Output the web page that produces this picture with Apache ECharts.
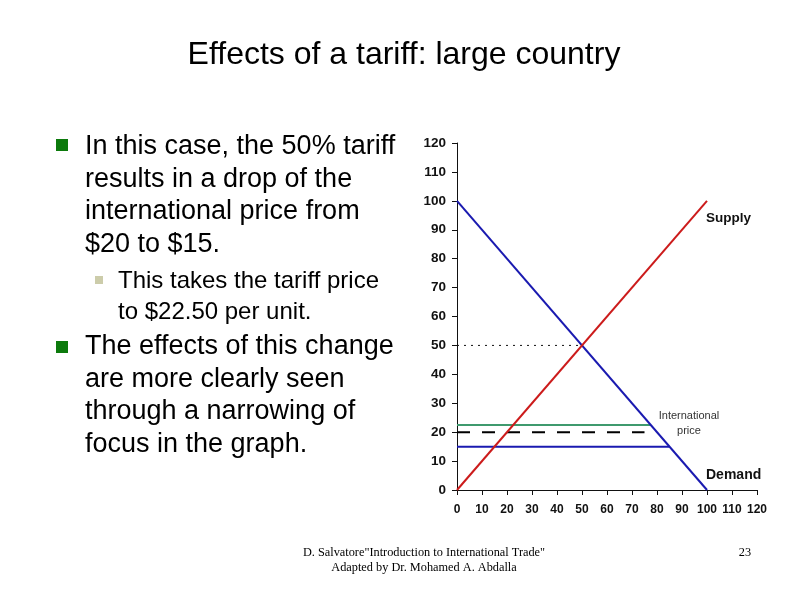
<!DOCTYPE html>
<html>
<head>
<meta charset="utf-8">
<script src="https://cdn.jsdelivr.net/npm/echarts@6/dist/echarts.min.js"></script>
<style>
html,body{margin:0;padding:0;background:#fff;}
#chart{width:799px;height:598px;}
</style>
</head>
<body>
<div id="chart"></div>
<script>
// ---- data ----
const titleText = "Effects of a tariff: large country";
const bullet1 = ["In this case, the 50% tariff", "results in a drop of the", "international price from", "$20 to $15."];
const subBullet = ["This takes the tariff price", "to $22.50 per unit."];
const bullet2 = ["The effects of this change", "are more clearly seen", "through a narrowing of", "focus in the graph."];
const footerLines = ["D. Salvatore\"Introduction to International Trade\"", "Adapted by Dr. Mohamed A. Abdalla"];
const pageNumber = "23";

const demandX = [0, 100];
const demandY = [100, 0];
const supplyX = [0, 100];
const supplyY = [0, 100];
const equilibriumX = [0, 50];
const equilibriumY = [50, 50];
const tariffPriceX = [0, 77.5];
const tariffPriceY = [22.5, 22.5];
const oldPriceX = [0, 75];
const oldPriceY = [20, 20];
const intlPriceX = [0, 85];
const intlPriceY = [15, 15];
const xTicks = [0, 10, 20, 30, 40, 50, 60, 70, 80, 90, 100, 110, 120];
const yTicks = [0, 10, 20, 30, 40, 50, 60, 70, 80, 90, 100, 110, 120];

function pairs(xs, ys) { return xs.map((x, i) => [x, ys[i]]); }

const chart = echarts.init(document.getElementById('chart'), null, {renderer: 'canvas'});
const sans = "Arial, 'Liberation Sans', sans-serif";
const serif = "'Times New Roman', 'Liberation Serif', serif";

const graphics = [];
graphics.push({type: 'text', x: 404, y: 55, style: {text: titleText, font: "32px " + sans, fill: '#000', textAlign: 'center', textVerticalAlign: 'middle'}});
// bullets
function addLines(lines, x, yStart, step, font) {
  lines.forEach((t, i) => graphics.push({type: 'text', x: x, y: yStart + i * step, style: {text: t, font: font, fill: '#000', textVerticalAlign: 'middle'}}));
}
graphics.push({type: 'rect', shape: {x: 56, y: 139, width: 12, height: 12}, style: {fill: '#0c7a0c'}});
addLines(bullet1, 85, 147, 32.4, "27px " + sans);
graphics.push({type: 'rect', shape: {x: 95, y: 276, width: 8, height: 8}, style: {fill: '#ccccaa'}});
addLines(subBullet, 118, 281, 31, "24px " + sans);
graphics.push({type: 'rect', shape: {x: 56, y: 341, width: 12, height: 12}, style: {fill: '#0c7a0c'}});
addLines(bullet2, 85, 347, 32.4, "27px " + sans);
// annotations
graphics.push({type: 'text', x: 706, y: 218, style: {text: 'Supply', font: "bold 13.5px " + sans, fill: '#111', textVerticalAlign: 'middle'}});
graphics.push({type: 'text', x: 706, y: 475, style: {text: 'Demand', font: "bold 14px " + sans, fill: '#111', textVerticalAlign: 'middle'}});
graphics.push({type: 'text', x: 689, y: 423, style: {text: 'International\nprice', font: "11px " + sans, fill: '#333', textAlign: 'center', textVerticalAlign: 'middle', lineHeight: 15}});
// footer
graphics.push({type: 'text', x: 424, y: 553, style: {text: footerLines[0], font: "12.3px " + serif, fill: '#000', textAlign: 'center', textVerticalAlign: 'middle'}});
graphics.push({type: 'text', x: 424, y: 568, style: {text: footerLines[1], font: "12.3px " + serif, fill: '#000', textAlign: 'center', textVerticalAlign: 'middle'}});
graphics.push({type: 'text', x: 745, y: 553, style: {text: pageNumber, font: "12.3px " + serif, fill: '#000', textAlign: 'center', textVerticalAlign: 'middle'}});

function lineSeries(name, xs, ys, color, width, type) {
  return {name: name, type: 'line', data: pairs(xs, ys), symbol: 'none', animation: false, silent: true,
    lineStyle: {color: color, width: width, type: type || 'solid'}};
}

const xLabelStyle = {fontFamily: sans, fontWeight: 'bold', fontSize: 12, color: '#111'};
const yLabelStyle = {fontFamily: sans, fontWeight: 'bold', fontSize: 13.5, color: '#111'};
chart.setOption({
  animation: false,
  backgroundColor: '#fff',
  grid: {left: 457, top: 143, width: 300, height: 347, containLabel: false},
  xAxis: {type: 'value', min: 0, max: 120, interval: 10,
    axisLine: {show: true, lineStyle: {color: '#111', width: 1}},
    axisTick: {show: true, length: 5, lineStyle: {color: '#111'}},
    splitLine: {show: false},
    axisLabel: Object.assign({margin: 14, formatter: v => xTicks.includes(v) ? String(v) : ''}, xLabelStyle)},
  yAxis: {type: 'value', min: 0, max: 120, interval: 10,
    axisLine: {show: true, lineStyle: {color: '#111', width: 1}},
    axisTick: {show: true, length: 5, lineStyle: {color: '#111'}},
    splitLine: {show: false},
    axisLabel: Object.assign({margin: 11, formatter: v => yTicks.includes(v) ? String(v) : ''}, yLabelStyle)},
  series: [
    lineSeries('Equilibrium', equilibriumX, equilibriumY, '#111', 1, [2, 5]),
    lineSeries('Tariff price', tariffPriceX, tariffPriceY, '#3f9a6e', 2),
    lineSeries('Old price', oldPriceX, oldPriceY, '#000', 2, [13, 12]),
    lineSeries('International price', intlPriceX, intlPriceY, '#1a1ab0', 2),
    lineSeries('Demand', demandX, demandY, '#1a1ab0', 2),
    lineSeries('Supply', supplyX, supplyY, '#cc1b1b', 2)
  ],
  graphic: graphics
});
</script>
</body>
</html>
